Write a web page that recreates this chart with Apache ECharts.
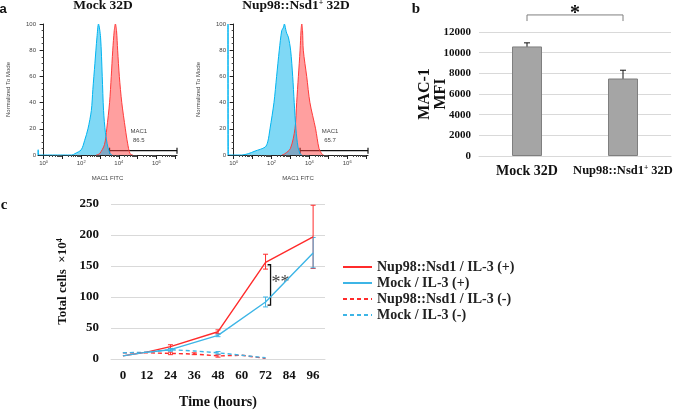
<!DOCTYPE html>
<html>
<head>
<meta charset="utf-8">
<script src="https://cdn.jsdelivr.net/npm/echarts@6/dist/echarts.min.js"></script>
<style>
html, body { margin: 0; padding: 0; background: #fff; }
#chart { width: 685px; height: 410px; }
</style>
</head>
<body>
<div id="chart"></div>
<script>
// panel a : MAC1 histograms, x = log10(MAC1 FITC), y = % of mode
const mockRed = [[2.8, 0], [2.98, 1], [3.24, 8], [3.36, 20], [3.51, 40], [3.6, 60], [3.68, 80], [3.76, 95], [3.82, 100],
  [3.88, 95], [3.94, 80], [4.03, 60], [4.16, 40], [4.35, 20], [4.47, 9], [4.6, 1], [4.75, 0]];
const mockBlue = [[-0.3, 0], [-0.29, 4], [-0.27, 0], [1.5, 0], [1.66, 1], [2.0, 4], [2.18, 11], [2.36, 20], [2.54, 34],
  [2.62, 50], [2.73, 70], [2.84, 90], [2.92, 100], [3.03, 90], [3.12, 60], [3.19, 34], [3.29, 17], [3.42, 6], [3.54, 1], [3.65, 0]];
const nupRed = [[2.55, 0], [2.71, 1], [3.0, 5], [3.24, 20], [3.33, 40], [3.42, 60], [3.51, 80], [3.56, 95], [3.6, 100],
  [3.64, 95], [3.68, 80], [3.86, 60], [4.03, 40], [4.33, 20], [4.51, 5], [4.65, 1], [4.75, 0]];
const nupBlue = [[-0.3, 0], [-0.3, 100], [-0.28, 0], [0.42, 0], [0.77, 1], [1.13, 3], [1.66, 6], [1.8, 10], [1.92, 20],
  [2.13, 40], [2.27, 60], [2.41, 80], [2.54, 95], [2.62, 97], [2.68, 100], [2.75, 96], [2.8, 93], [2.89, 90], [3.01, 80],
  [3.12, 60], [3.2, 40], [3.29, 20], [3.4, 6], [3.51, 1], [3.6, 0]];
// gate: from, to, level, label x, percent
const mockGate = [[3.51, 7.1, 3.3, 5.07, '86.5']];
const nupGate = [[3.51, 7.1, 3.3, 5.09, '65.7']];
const decadeLabels = [0, 2, 4, 6];
const decadeTicks = [0, 1, 2, 3, 4, 5, 6, 7];

// panel b : MAC-1 MFI
const cellLines = ['Mock 32D', 'Nup98::Nsd1+ 32D'];
const mfi = [10600, 7500];
const mfiErr = [[0, 10300, 10950], [1, 6700, 8300]];
const mfiSig = [[0, 1, 13650, 13060, '*']];

// panel c : growth curves
const hours = ['0', '12', '24', '36', '48', '60', '72', '84', '96'];
const nupPlus = [5, 11, 20, null, 44, null, 156, null, 197];
const mockPlus = [5, 11, 15, null, 38, null, 92, null, 171];
const nupMinus = [10, 10, 9, 8, 5, 6, 1, null, null];
const mockMinus = [10, 11, 15, 13, 10, 6, 2, null, null];
const nupPlusErr = [[2, 17, 23], [4, 41, 47], [6, 145, 169], [8, 146, 248]];
const mockPlusErr = [[2, 13, 17], [4, 36, 40], [6, 84, 100], [8, 147, 196]];
const nupMinusErr = [[2, 7, 11], [3, 7, 10], [4, 3, 7]];
const mockMinusErr = [[2, 13, 17], [4, 8, 12]];
const growthSig = [[6, 152, 87, 129, '**']];

const SERIF = "'Liberation Serif', 'Times New Roman', serif";
const SANS = "'Liberation Sans', Arial, sans-serif";
const RED = '#ff2b2b';
const BLUE = '#3db5e6';

const minorTicks = [];
for (let d = 0; d < 7; d++) {
  for (let k = 2; k < 10; k++) minorTicks.push(d + Math.log10(k));
}

function errorBars(color, cap) {
  return function (params, api) {
    const x = api.value(0);
    const lo = api.coord([x, api.value(1)]);
    const hi = api.coord([x, api.value(2)]);
    const st = { stroke: color, lineWidth: 1 };
    return {
      type: 'group',
      children: [
        { type: 'line', shape: { x1: lo[0], y1: lo[1], x2: hi[0], y2: hi[1] }, style: st },
        { type: 'line', shape: { x1: lo[0] - cap, y1: lo[1], x2: lo[0] + cap, y2: lo[1] }, style: st },
        { type: 'line', shape: { x1: hi[0] - cap, y1: hi[1], x2: hi[0] + cap, y2: hi[1] }, style: st }
      ]
    };
  };
}

function renderGate(params, api) {
  const a = api.coord([api.value(0), api.value(2)]);
  const b = api.coord([api.value(1), api.value(2)]);
  const lx = api.coord([api.value(3), 0])[0];
  const st = { stroke: '#111', lineWidth: 1.2 };
  const txt = { fill: '#444', font: '6px ' + SANS, align: 'center', verticalAlign: 'middle' };
  return {
    type: 'group',
    children: [
      { type: 'line', shape: { x1: a[0], y1: a[1], x2: b[0], y2: b[1] }, style: st },
      { type: 'line', shape: { x1: a[0], y1: a[1] - 3, x2: a[0], y2: a[1] + 3 }, style: st },
      { type: 'line', shape: { x1: b[0], y1: b[1] - 3, x2: b[0], y2: b[1] + 3 }, style: st },
      { type: 'text', style: Object.assign({ text: 'MAC1', x: lx, y: a[1] - 19 }, txt) },
      { type: 'text', style: Object.assign({ text: api.value(4), x: lx, y: a[1] - 10 }, txt) }
    ]
  };
}

function renderBarSig(params, api) {
  const top0 = api.coord([api.value(0), api.value(2)]);
  const top1 = api.coord([api.value(1), api.value(2)]);
  const low = api.coord([api.value(0), api.value(3)])[1];
  return {
    type: 'group',
    children: [
      { type: 'polyline', shape: { points: [[top0[0], low], [top0[0], top0[1]], [top1[0], top1[1]], [top1[0], low]] },
        style: { stroke: '#7f7f7f', lineWidth: 1, fill: null } },
      { type: 'text', style: { text: api.value(4), x: (top0[0] + top1[0]) / 2, y: top0[1] - 1,
        font: 'bold 20px ' + SERIF, fill: '#111', align: 'center', verticalAlign: 'middle' } }
    ]
  };
}

function renderGrowthSig(params, api) {
  const t = api.coord([api.value(0), api.value(1)]);
  const b = api.coord([api.value(0), api.value(2)]);
  const m = api.coord([api.value(0), api.value(3)]);
  const x = t[0] + 5;
  return {
    type: 'group',
    children: [
      { type: 'polyline', shape: { points: [[x - 3, t[1]], [x, t[1]], [x, b[1]], [x - 3, b[1]]] },
        style: { stroke: '#111', lineWidth: 1.3, fill: null } },
      { type: 'text', style: { text: api.value(4), x: x + 10, y: m[1] + 4,
        font: '18px ' + SERIF, fill: '#444', align: 'center', verticalAlign: 'middle' } }
    ]
  };
}

function histX(gridIndex) {
  return [
    {
      type: 'value', gridIndex: gridIndex, min: -0.3, max: 7.1, position: 'bottom',
      axisLine: { show: true, onZero: false, lineStyle: { color: '#222', width: 1 } },
      axisTick: { show: true, customValues: decadeTicks, length: 4, lineStyle: { color: '#222' } },
      axisLabel: {
        customValues: decadeLabels, margin: 5, color: '#444',
        formatter: v => '{t|10}{e|' + v + '}',
        rich: { t: { fontSize: 6, fontFamily: SANS, color: '#444' }, e: { fontSize: 4, fontFamily: SANS, color: '#444', verticalAlign: 'top' } }
      },
      splitLine: { show: false },
      name: 'MAC1 FITC', nameLocation: 'middle', nameGap: 20, nameMoveOverlap: false,
      nameTextStyle: { fontSize: 6, fontFamily: SANS, color: '#444' }
    },
    {
      type: 'value', gridIndex: gridIndex, min: -0.3, max: 7.1, position: 'bottom',
      axisLine: { show: false, onZero: false },
      axisTick: { show: true, customValues: minorTicks, length: 2, lineStyle: { color: '#444' } },
      axisLabel: { show: false },
      splitLine: { show: false }
    }
  ];
}

function histY(gridIndex) {
  return {
    type: 'value', gridIndex: gridIndex, min: 0, max: 100, interval: 20,
    axisLine: { show: true, lineStyle: { color: '#222', width: 1 } },
    axisTick: { show: true, length: 4, lineStyle: { color: '#222' } },
    minorTick: { show: true, splitNumber: 4, length: 2, lineStyle: { color: '#444' } },
    axisLabel: { fontSize: 6, fontFamily: SANS, color: '#444', margin: 2 },
    splitLine: { show: false },
    name: 'Normalized To Mode', nameLocation: 'middle', nameGap: 27, nameMoveOverlap: false,
    nameTextStyle: { fontSize: 6, fontFamily: SANS, color: '#444' }
  };
}

function histSeries(xi, yi, data, color, fill) {
  return {
    type: 'line', xAxisIndex: xi, yAxisIndex: yi, data: data, symbol: 'none', silent: true, smooth: 0.3,
    lineStyle: { color: color, width: 1 }, areaStyle: { color: fill, opacity: 1 }
  };
}

function growthLine(name, data, color, dashed) {
  return {
    name: name, type: 'line', xAxisIndex: 5, yAxisIndex: 3, data: data, symbol: 'none', connectNulls: true,
    lineStyle: { color: color, width: 1.4, type: dashed ? [4, 3] : 'solid' }, itemStyle: { color: color }
  };
}

function errSeries(xi, yi, data, color, cap) {
  return {
    type: 'custom', xAxisIndex: xi, yAxisIndex: yi, data: data, renderItem: errorBars(color, cap),
    encode: { x: 0, y: [1, 2] }, silent: true
  };
}

const serifBold = { fontFamily: SERIF, fontWeight: 'bold', color: '#111' };

const chart = echarts.init(document.getElementById('chart'), null, { renderer: 'canvas' });
chart.setOption({
  animation: false,
  backgroundColor: '#fff',
  graphic: [
    { type: 'text', style: { text: 'a', x: 3, y: 9, font: 'bold 13px ' + SANS, fill: '#111', align: 'center', verticalAlign: 'middle' } },
    { type: 'text', style: { text: 'b', x: 416, y: 9, font: 'bold 15px ' + SERIF, fill: '#111', align: 'center', verticalAlign: 'middle' } },
    { type: 'text', style: { text: 'c', x: 4, y: 205, font: 'bold 15px ' + SERIF, fill: '#111', align: 'center', verticalAlign: 'middle' } },
    { type: 'text', style: { text: 'Mock 32D', x: 103, y: 6, font: 'bold 13.5px ' + SERIF, fill: '#111', align: 'center', verticalAlign: 'middle' } },
    { type: 'text', style: { text: '{a|Nup98::Nsd1}{s|+}{a| 32D}', x: 296, y: 6, align: 'center', verticalAlign: 'middle',
      rich: { a: { font: 'bold 13.5px ' + SERIF, fill: '#111' }, s: { font: 'bold 8px ' + SERIF, fill: '#111', verticalAlign: 'top' } } } }
  ],
  grid: [
    { left: 38, top: 24, width: 139, height: 131 },
    { left: 228, top: 24, width: 140, height: 131 },
    { left: 479, top: 32, width: 192, height: 124 },
    { left: 111, top: 204, width: 214, height: 155 }
  ],
  legend: {
    orient: 'vertical', left: 337, top: 255, itemWidth: 29, itemHeight: 10, itemGap: 2,
    data: ['Nup98::Nsd1 / IL-3 (+)', 'Mock / IL-3 (+)', 'Nup98::Nsd1 / IL-3 (-)', 'Mock / IL-3 (-)'],
    itemStyle: { opacity: 0 },
    textStyle: { fontFamily: SERIF, fontWeight: 'bold', fontSize: 14, color: '#222' }
  },
  xAxis: histX(0).concat(histX(1)).concat([
    {
      type: 'category', gridIndex: 2, data: cellLines,
      axisLine: { lineStyle: { color: '#d9d9d9' } }, axisTick: { show: false },
      axisLabel: {
        margin: 8, interval: 0, hideOverlap: false,
        formatter: v => v.indexOf('+') > 0 ? '{c|Nup98::Nsd1}{s|+}{c| 32D}' : '{b|' + v + '}',
        rich: {
          b: Object.assign({ fontSize: 14 }, serifBold),
          c: Object.assign({ fontSize: 12.5 }, serifBold),
          s: Object.assign({ fontSize: 7.5, verticalAlign: 'top' }, serifBold)
        }
      }
    },
    {
      type: 'category', gridIndex: 3, data: hours,
      axisLine: { lineStyle: { color: '#d9d9d9' } }, axisTick: { show: false },
      axisLabel: Object.assign({ fontSize: 13, margin: 10 }, serifBold),
      name: 'Time (hours)', nameLocation: 'middle', nameGap: 36, nameMoveOverlap: false,
      nameTextStyle: Object.assign({ fontSize: 14 }, serifBold)
    }
  ]),
  yAxis: [
    histY(0),
    histY(1),
    {
      type: 'value', gridIndex: 2, min: 0, max: 12000, interval: 2000,
      axisLine: { show: false }, axisTick: { show: false },
      axisLabel: Object.assign({ fontSize: 11, margin: 8, formatter: v => String(v) }, serifBold),
      splitLine: { lineStyle: { color: '#d9d9d9' } },
      name: 'MAC-1\nMFI', nameLocation: 'middle', nameGap: 30, nameMoveOverlap: false,
      nameTextStyle: Object.assign({ fontSize: 16, lineHeight: 16 }, serifBold)
    },
    {
      type: 'value', gridIndex: 3, min: 0, max: 250, interval: 50,
      axisLine: { show: false }, axisTick: { show: false },
      axisLabel: Object.assign({ fontSize: 13, margin: 12 }, serifBold),
      splitLine: { lineStyle: { color: '#d9d9d9' } },
      name: '{n|Total cells  ×10}{s|4}', nameLocation: 'middle', nameGap: 42, nameMoveOverlap: false,
      nameTextStyle: {
        rich: { n: Object.assign({ fontSize: 13 }, serifBold), s: Object.assign({ fontSize: 8, verticalAlign: 'top' }, serifBold) }
      }
    }
  ],
  series: [
    histSeries(0, 0, mockRed, '#ff3b3b', 'rgba(255,64,64,0.5)'),
    histSeries(0, 0, mockBlue, '#00b4f0', 'rgba(0,177,235,0.5)'),
    { type: 'custom', xAxisIndex: 0, yAxisIndex: 0, data: mockGate, renderItem: renderGate, silent: true, encode: { x: [0, 1], y: 2 } },
    histSeries(2, 1, nupRed, '#ff3b3b', 'rgba(255,64,64,0.5)'),
    histSeries(2, 1, nupBlue, '#00b4f0', 'rgba(0,177,235,0.5)'),
    { type: 'custom', xAxisIndex: 2, yAxisIndex: 1, data: nupGate, renderItem: renderGate, silent: true, encode: { x: [0, 1], y: 2 } },

    {
      type: 'bar', xAxisIndex: 4, yAxisIndex: 2, data: mfi, barWidth: 30, silent: true,
      itemStyle: { color: '#a5a5a5', borderColor: '#7f7f7f', borderWidth: 1 }
    },
    errSeries(4, 2, mfiErr, '#111', 3),
    { type: 'custom', xAxisIndex: 4, yAxisIndex: 2, data: mfiSig, renderItem: renderBarSig, silent: true, encode: { x: [0, 1], y: [2, 3] } },

    growthLine('Nup98::Nsd1 / IL-3 (-)', nupMinus, RED, true),
    growthLine('Mock / IL-3 (-)', mockMinus, BLUE, true),
    growthLine('Nup98::Nsd1 / IL-3 (+)', nupPlus, RED, false),
    growthLine('Mock / IL-3 (+)', mockPlus, BLUE, false),
    errSeries(5, 3, nupMinusErr, RED, 2.5),
    errSeries(5, 3, mockMinusErr, BLUE, 2.5),
    errSeries(5, 3, nupPlusErr, RED, 2.5),
    errSeries(5, 3, mockPlusErr, BLUE, 2.5),
    { type: 'custom', xAxisIndex: 5, yAxisIndex: 3, data: growthSig, renderItem: renderGrowthSig, silent: true, encode: { x: 0, y: [1, 2] } }
  ]
});
</script>
</body>
</html>
